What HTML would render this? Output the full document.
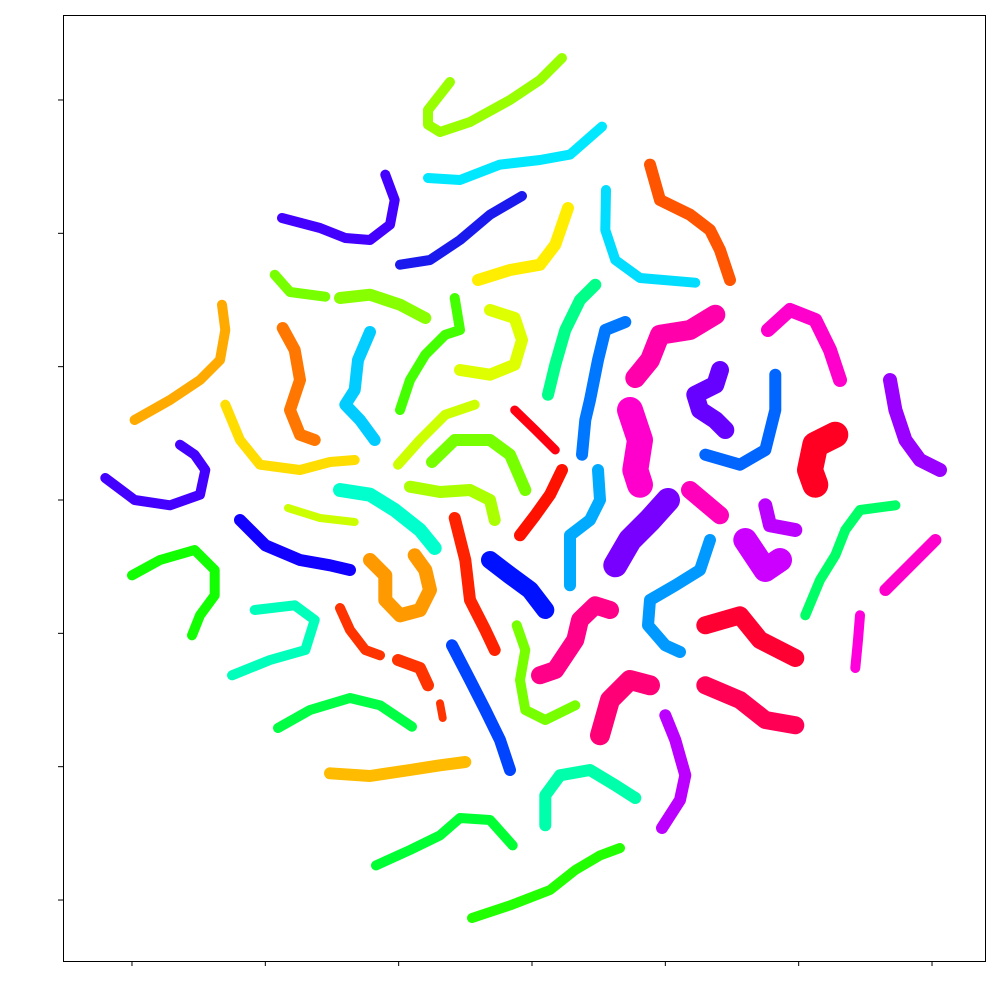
<!DOCTYPE html>
<html><head><meta charset="utf-8"><style>
html,body{margin:0;padding:0;background:#fff;width:1000px;height:1000px;overflow:hidden}
svg{display:block}
</style></head><body>
<svg id="chart" width="1000" height="1000" viewBox="0 0 1000 1000">
<rect x="63.5" y="15.5" width="922" height="946" fill="#fff" stroke="#000" stroke-width="1"/>
<g id="marks"></g>
<g id="ticks"></g>
</svg>
<script>
const xTicks = [-60,-40,-20,0,20,40,60];
const yTicks = [60,40,20,0,-20,-40,-60];
const clusterPoints = [
 [[-12.3,62.7],[-15.6,58.5],[-15.6,56.3],[-13.8,55.2],[-9.3,56.7],[-3.3,60],[1.2,63],[4.5,66.3]],
 [[-15.6,48.3],[-10.8,48],[-4.8,50.3],[1.2,51],[5.7,51.8],[10.5,56]],
 [[-37.5,42.3],[-31.8,40.8],[-28,39.3],[-24.3,39],[-21.3,41.3],[-20.6,45],[-22,48.8]],
 [[-19.8,35.3],[-15.3,36],[-10.8,39],[-6.3,42.8],[-1.5,45.6]],
 [[-8.1,33],[-3.3,34.5],[1.2,35.3],[3.5,38.3],[5.4,43.8]],
 [[11.1,46.5],[11,40.5],[12.5,36],[16.2,33.3],[24.5,32.6]],
 [[17.7,50.3],[19.2,45],[23.7,42.8],[26.7,40.5],[28.2,37.5],[29.7,33]],
 [[-38.6,33.8],[-36.3,31.2],[-31,30.5]],
 [[-28.8,30.3],[-24.3,30.8],[-19.8,29.3],[-16,27.3]],
 [[-59.6,12],[-54.3,15],[-49.8,18],[-46.8,21],[-46,25.5],[-46.5,29.3]],
 [[-37.4,25.8],[-35.6,22.5],[-34.8,18],[-36.3,13.5],[-34.8,9.8],[-32.6,9]],
 [[-24.3,25.2],[-26.1,21],[-26.6,16.5],[-28,14.3],[-25.8,12],[-23.6,9]],
 [[-11.6,30.3],[-10.8,25.5],[-13,24.8],[-16,21.8],[-18.3,18],[-19.8,13.5]],
 [[-6.3,28.5],[-2.6,27.3],[-1.5,24],[-2.6,20.3],[-6.3,18.8],[-10.8,19.5]],
 [[9.5,32.3],[7.2,30],[5,25.5],[3.5,20.3],[2.4,15.8]],
 [[14,26.7],[11,25.5],[9.9,21],[8.7,15],[8,12],[7.5,6.8]],
 [[27.5,27.8],[23.7,25.5],[19.2,24.8],[17.7,21],[15.5,18.3]],
 [[35.4,25.5],[38.7,28.5],[42.5,27],[44.7,22.5],[46.2,18]],
 [[28.2,19.5],[27.5,17.3],[24.5,15.8],[25.2,13.5],[27.5,12],[29,10.5]],
 [[26,6.8],[31.2,5.3],[35,7.5],[36.5,13.5],[36.5,18.8]],
 [[53.7,18],[54.5,13.5],[56,9],[58.2,6],[61.2,4.5]],
 [[45.5,9.8],[42.5,8.3],[41.7,4.5],[42.5,2.3]],
 [[-46,14.3],[-43.8,9],[-40.8,5.3],[-34.8,4.5],[-30.3,5.7],[-26.6,6]],
 [[-20.1,5.3],[-16.8,9],[-13,12.8],[-8.6,14.3]],
 [[-15,5.7],[-11.6,9],[-6.3,9],[-3.3,6.8],[-1,1.5]],
 [[-2.6,13.5],[0.5,10.5],[3.5,7.5]],
 [[-18.3,2],[-13.8,1.2],[-9.3,1.5],[-6.3,0],[-5.6,-3]],
 [[4.5,4.5],[2.7,0.8],[0.5,-2.3],[-1.8,-5.3]],
 [[9.9,4.5],[10.2,0],[8.7,-3],[5.7,-5.3],[5.7,-12.8]],
 [[14.7,13.5],[16.2,9],[15.5,4.5],[16.2,2.3]],
 [[-64,3.3],[-59.6,0],[-54.3,-0.8],[-49.8,0.8],[-49,4.5],[-50.6,6.8],[-52.8,8.3]],
 [[-43.8,-3],[-40,-6.8],[-34.8,-9],[-30.3,-9.8],[-27.3,-10.5]],
 [[-36.6,-1.2],[-31.8,-2.7],[-26.6,-3.3]],
 [[-28.8,1.5],[-24.3,0.8],[-20.6,-1.5],[-16.8,-4.5],[-14.6,-7.2]],
 [[-11.6,-2.7],[-10,-9],[-9.3,-15],[-7,-19.5],[-5.6,-22.5]],
 [[-6.3,-9],[-3.3,-11.3],[-0.3,-13.5],[2,-16.5]],
 [[-60,-11.3],[-55.8,-9],[-50.6,-7.5],[-47.6,-10.5],[-47.6,-14.3],[-49.8,-17.3],[-51,-20.3]],
 [[-24.3,-9],[-22,-11.3],[-22,-15],[-19.8,-17.3],[-16.8,-16.5],[-15.3,-13.5],[-16,-10.5],[-17.6,-8.3]],
 [[-41.6,-16.5],[-35.6,-15.8],[-32.6,-18],[-34,-22.5],[-39.3,-24],[-45,-26.3]],
 [[-28.8,-16.2],[-27.3,-19.5],[-25,-22.5],[-22.8,-23.3]],
 [[-20.1,-24],[-16.8,-25.2],[-15.6,-27.8]],
 [[-13.8,-30.5],[-13.4,-32.7]],
 [[-12,-21.8],[-9.3,-27],[-7,-31.5],[-4.8,-36],[-3.3,-40.5]],
 [[-2.3,-18.8],[-1,-22.5],[-1.8,-27],[-1,-31.5],[2,-33],[6.5,-30.8]],
 [[1.2,-26.3],[3.5,-25.5],[6.5,-21],[7.2,-18],[9.5,-15.8],[11.7,-16.5]],
 [[20.4,0],[17.7,-3],[14.7,-6],[12.5,-9.8]],
 [[23.7,1.5],[28.2,-2.3]],
 [[32,-6],[35,-10.5],[37.2,-9]],
 [[35,-0.8],[35.7,-3.8],[39.5,-4.5]],
 [[26.7,-6],[25.2,-10.5],[21.5,-12.8],[17.7,-15],[17.4,-18.8],[20,-21.8],[22.2,-22.8]],
 [[26,-18.8],[31.2,-17.3],[34.2,-21],[39.5,-23.7]],
 [[41,-17.3],[43.2,-12],[45.5,-8.3],[47,-4.5],[49.2,-1.5],[54.5,-0.8]],
 [[53,-13.5],[56,-10.5],[60.5,-6]],
 [[49.2,-17.3],[48.9,-21],[48.5,-25.2]],
 [[10.2,-35.3],[11.7,-30],[14.7,-27],[17.7,-27.8]],
 [[26,-27.8],[31.2,-30],[35,-33],[39.5,-33.8]],
 [[20,-32.3],[21.5,-36],[23,-41.3],[22.2,-45],[19.5,-49.2]],
 [[-38.1,-34.2],[-33.3,-31.5],[-27.3,-29.7],[-22.8,-30.8],[-18,-34]],
 [[-30.3,-41],[-24.3,-41.4],[-18.3,-40.5],[-13.8,-39.8],[-10,-39.3]],
 [[2,-48.8],[2,-44.3],[4.2,-41.3],[8.7,-40.5],[12.5,-42.8],[15.5,-44.7]],
 [[-23.4,-54.8],[-18.3,-52.5],[-13.8,-50.3],[-10.8,-47.7],[-6.3,-48],[-2.9,-51.8]],
 [[-9,-62.7],[-3.3,-60.8],[2.7,-58.5],[6.5,-55.5],[10.2,-53.3],[13.2,-52.2]]
];
const clusterColors = ["#99ff00","#00e8ff","#4400ff","#1a1aee","#ffee00","#00ddff","#ff5500","#77ff00","#88ff00","#ffaa00","#ff7700","#00ccff","#44ff00","#ddff00","#00ff88","#0077ff","#ff00aa","#ff00cc","#6600ff","#0066ff","#9900ff","#ff0022","#ffdd00","#ccff00","#77ff00","#ff0011","#aaff00","#ff1100","#00aaff","#ff00cc","#4400ff","#1100ff","#ccff00","#00ffcc","#ff2200","#0011ff","#11ff00","#ff9900","#00ffbb","#ff3300","#ff3300","#ff3300","#0044ff","#77ff00","#ff0088","#7700ff","#ff00bb","#cc00ff","#bb00ff","#0099ff","#ff0033","#00ff66","#ff00cc","#ff00dd","#ff0077","#ff0055","#bb00ff","#00ff44","#ffbb00","#00ffaa","#00ff33","#22ff00"];
const clusterWidths = [10,10,10,10,12,10,12,10,12,10,12,12,10,12,12,12,20,14,18,12,14,26,10,10,12,9,12,12,12,26,10,12,8,14,12,18,10,14,10,10,12,8,12,10,18,24,18,24,14,12,18,10,12,10,20,18,12,10,12,12,10,10];
const X = v => 532 + v * 6.667;
const Y = v => 500 - v * 6.667;
const NS = "http://www.w3.org/2000/svg";
const marks = document.getElementById("marks");
clusterPoints.forEach((pts, i) => {
  const pl = document.createElementNS(NS, "polyline");
  pl.setAttribute("points", pts.map(p => X(p[0]).toFixed(1) + "," + Y(p[1]).toFixed(1)).join(" "));
  pl.setAttribute("fill", "none");
  pl.setAttribute("stroke", clusterColors[i]);
  pl.setAttribute("stroke-width", clusterWidths[i]);
  pl.setAttribute("stroke-linecap", "round");
  pl.setAttribute("stroke-linejoin", "round");
  
  
  marks.appendChild(pl);
});
const ticks = document.getElementById("ticks");
xTicks.forEach(v => {
  const l = document.createElementNS(NS, "line");
  l.setAttribute("x1", X(v)); l.setAttribute("x2", X(v));
  l.setAttribute("y1", 961); l.setAttribute("y2", 966);
  l.setAttribute("stroke", "#000");
  
  
  ticks.appendChild(l);
});
yTicks.forEach(v => {
  const l = document.createElementNS(NS, "line");
  l.setAttribute("y1", Y(v)); l.setAttribute("y2", Y(v));
  l.setAttribute("x1", 58); l.setAttribute("x2", 63);
  l.setAttribute("stroke", "#000");
  
  
  ticks.appendChild(l);
});
</script>
</body></html>
